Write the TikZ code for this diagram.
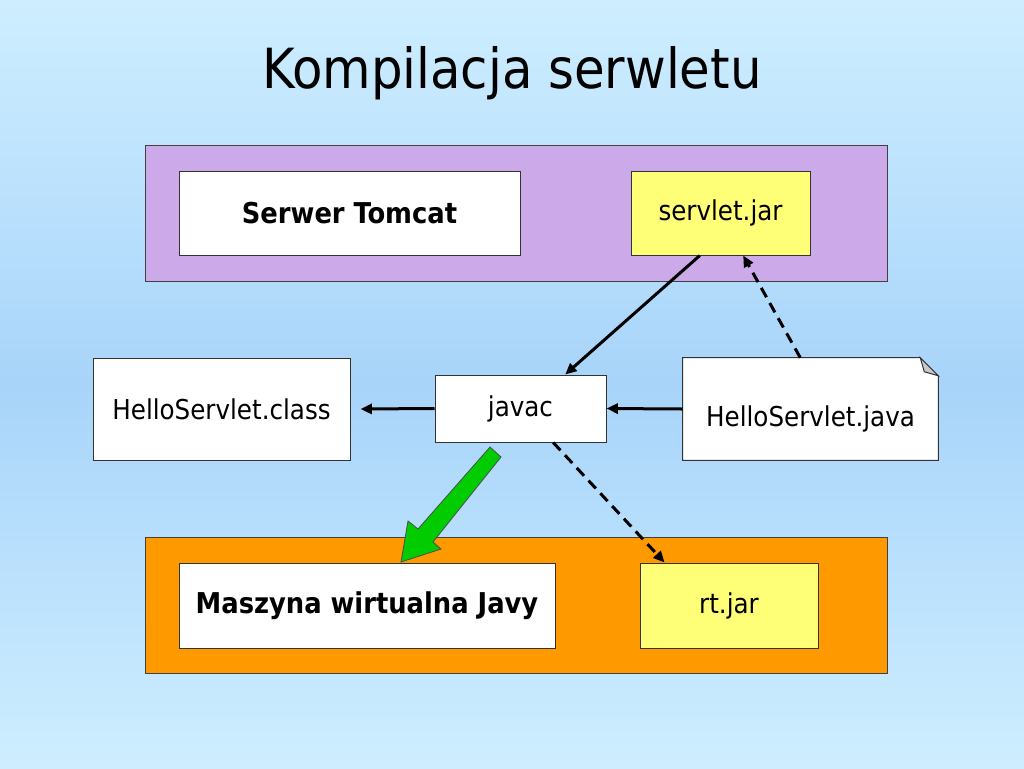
\documentclass[tikz,border=0pt]{standalone}
\usepackage{fontspec}
\setmainfont{DejaVu Sans Condensed}
\usetikzlibrary{arrows.meta,calc}
\definecolor{bgtop}{RGB}{206,238,255}
\definecolor{bgmid}{RGB}{168,212,250}
\definecolor{lilac}{RGB}{204,170,234}
\definecolor{orng}{RGB}{255,153,0}
\definecolor{yel}{RGB}{255,255,119}
\definecolor{grn}{RGB}{0,204,0}
\definecolor{fold}{RGB}{200,200,200}
\begin{document}
\begin{tikzpicture}[x=0.75pt,y=-0.75pt,
  panel/.style={draw=black!75, line width=0.75pt, minimum width=556.5pt, minimum height=102pt, inner sep=0pt},
  box/.style={draw=black!80, line width=0.75pt, inner sep=0pt, fill=white, font=\fontsize{20.5}{24}\selectfont},
  boldbox/.style={box, font=\fontsize{21.5}{25}\selectfont\bfseries},
  conn/.style={line width=2.25pt, -{Triangle[length=8.5pt,width=7.5pt]}},
  dconn/.style={conn, dash pattern=on 8pt off 5pt},
  bigarrow/.style={draw=black!70, line width=0.6pt, fill=grn}]
% background
\shade[top color=bgtop, bottom color=bgtop, middle color=bgmid, shading angle=0] (0,0) rectangle (1024,768);
\useasboundingbox (0,0) rectangle (1024,768);
% title
\node[anchor=base, font=\fontsize{41.5}{48}\selectfont] (title) at (512,88) {Kompilacja serwletu};
% panels
\node[panel, fill=lilac] (tomcatpanel) at (516,213) {};
\node[panel, fill=orng] (jvmpanel) at (516,605) {};
% boxes
\node[boldbox, minimum width=255.75pt, minimum height=63pt] (tomcat) at (349.5,213) {Serwer Tomcat};
\node[box, fill=yel, minimum width=134.25pt, minimum height=63pt] (servletjar) at (720.5,213) {servlet.jar};
\node[box, minimum width=192.75pt, minimum height=76.5pt] (class) at (221.5,409) {HelloServlet.class};
\node[box, minimum width=128.25pt, minimum height=50.25pt] (javac) at (520.5,408.5) {javac};
\node[inner sep=0pt, minimum width=191.25pt, minimum height=76.5pt] (java) at (810.5,409) {};
\draw[draw=black!80, line width=0.75pt, fill=white]
  (java.north west) -- ($(java.north east)+(-18,0)$) -- ($(java.north east)+(0,18)$) -- (java.south east) -- (java.south west) -- cycle;
\draw[draw=black!80, line width=0.75pt, fill=fold]
  ($(java.north east)+(-18,0)$) -- ($(java.north east)+(-14,14)$) -- ($(java.north east)+(0,18)$) -- cycle;
\node[font=\fontsize{20.5}{24}\selectfont] (javatext) at ($(java.center)+(0,10)$) {HelloServlet.java};
\node[boldbox, minimum width=282pt, minimum height=63.75pt] (jvm) at (367,605.5) {Maszyna wirtualna Javy};
\node[box, fill=yel, minimum width=133.5pt, minimum height=63.75pt] (rtjar) at (729,605.5) {rt.jar};
% connectors
\draw[conn] ($(servletjar.south west)!0.385!(servletjar.south east)$) -- ($(javac.north west)!0.76!(javac.north east)$);
\draw[dconn] ($(java.north west)!0.46!(java.north east)$) -- ($(servletjar.south west)!0.626!(servletjar.south east)$);
\draw[conn] (javac.west) -- ($(class.east)+(10,0)$);
\draw[conn] (java.west) -- (javac.east);
\draw[dconn] ($(javac.south west)!0.69!(javac.south east)$) -- ($(rtjar.north west)!0.14!(rtjar.north east)$);
% big green arrow from javac to jvm
\draw[bigarrow] (490,447) -- (501,457) -- (433,542) -- (441,549) -- (401,562) -- (408,521) -- (418,529) -- cycle;
\end{tikzpicture}
\end{document}
